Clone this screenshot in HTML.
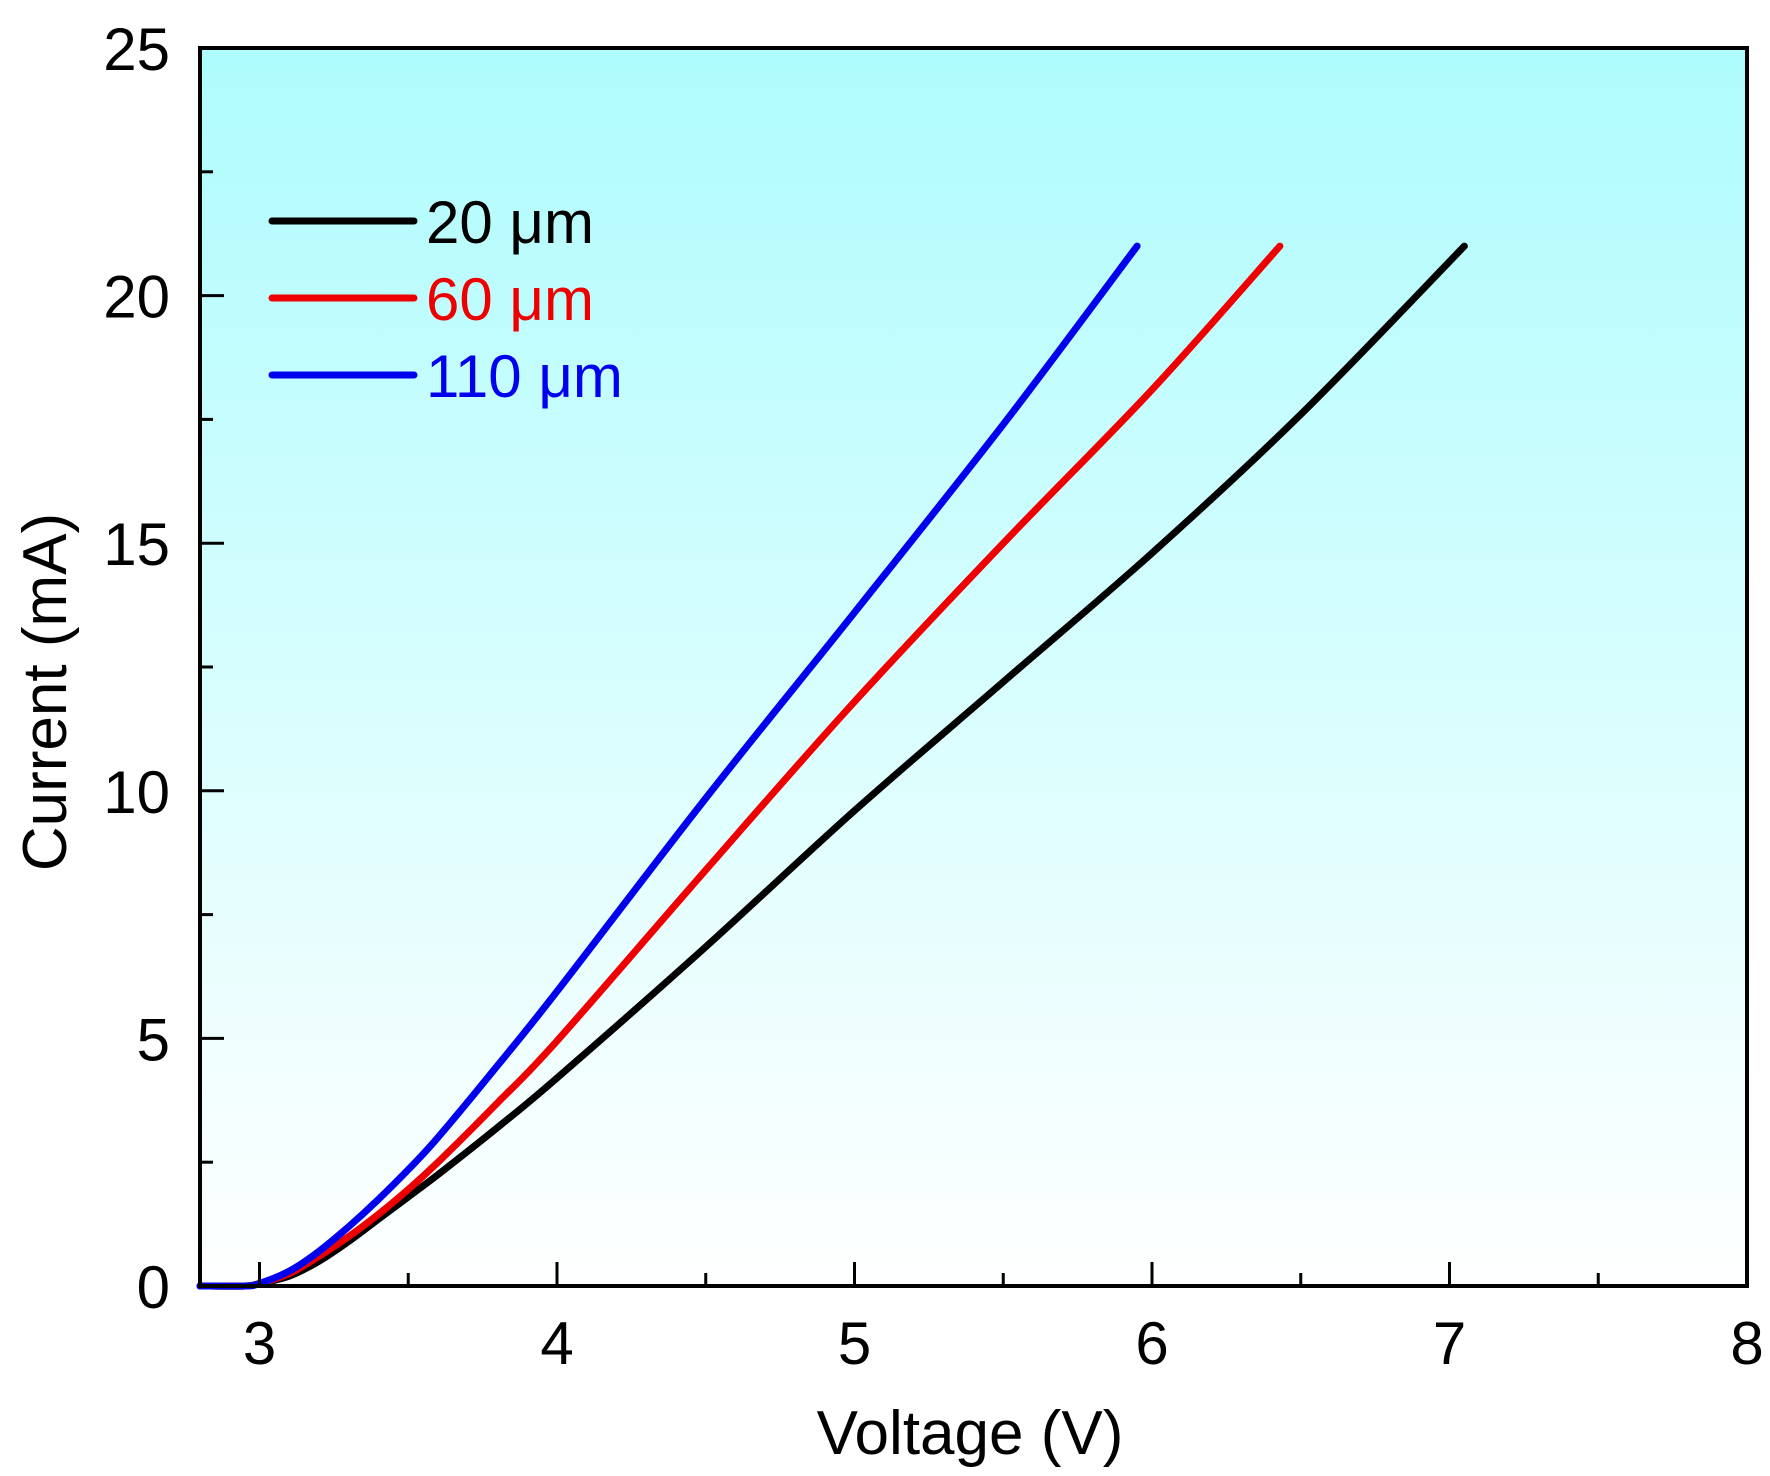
<!DOCTYPE html>
<html><head><meta charset="utf-8"><style>
html,body{margin:0;padding:0;background:#fff;}
svg{display:block;font-family:"Liberation Sans",Arial,sans-serif;}
</style></head><body>
<svg id="chart" width="1770" height="1476" viewBox="0 0 1770 1476" xmlns="http://www.w3.org/2000/svg">
<defs><linearGradient id="bg" x1="0" y1="0" x2="0" y2="1"><stop offset="0" stop-color="#aefcfd"/><stop offset="1" stop-color="#ffffff"/></linearGradient></defs>
<rect x="200" y="48" width="1547" height="1238" fill="url(#bg)"/>
<g id="series"></g>
<g id="axes"></g>
<text transform="translate(66,692) rotate(-90)" text-anchor="middle" font-size="62">Current (mA)</text>
<text x="970" y="1454" text-anchor="middle" font-size="62">Voltage (V)</text>
<g id="legend"></g>
</svg>
<script>
const seriesNames=["20 μm","60 μm","110 μm"];
const seriesColors=["#000000","#ee0000","#0000ee"];
const v20=[2.8,2.95,3.0,3.1,3.2,3.3,3.4,3.5,3.6,3.8,4.0,4.5,5.0,5.5,6.0,6.5,7.05];
const i20=[0,0,0.05,0.2,0.5,0.9,1.35,1.8,2.25,3.2,4.2,6.85,9.6,12.2,14.8,17.6,21.0];
const v60=[2.8,2.95,3.0,3.1,3.2,3.3,3.4,3.5,3.6,3.8,4.0,4.5,5.0,5.5,6.0,6.43];
const i60=[0,0,0.05,0.25,0.6,1.0,1.45,1.95,2.5,3.7,4.95,8.4,11.8,15.0,18.1,21.0];
const v110=[2.8,2.95,3.0,3.1,3.2,3.3,3.4,3.5,3.6,3.8,4.0,4.5,5.0,5.5,5.95];
const i110=[0,0,0.05,0.3,0.7,1.2,1.75,2.35,3.0,4.45,5.95,9.85,13.6,17.4,21.0];
const xTicks=[3,4,5,6,7,8];
const yTicks=[0,5,10,15,20,25];
const L=200,R=1747,T=48,B=1286,X0=2.8,X1=8,Y0=0,Y1=25;
const sx=v=>L+(v-X0)/(X1-X0)*(R-L);
const sy=v=>B-(v-Y0)/(Y1-Y0)*(B-T);
const NS="http://www.w3.org/2000/svg";
function mk(t,a,p){const e=document.createElementNS(NS,t);for(const k in a)e.setAttribute(k,a[k]);p.appendChild(e);return e;}
function smooth(pts){
 let d='M'+pts[0][0].toFixed(1)+','+pts[0][1].toFixed(1);
 for(let i=0;i<pts.length-1;i++){
  const p0=pts[Math.max(i-1,0)],p1=pts[i],p2=pts[i+1],p3=pts[Math.min(i+2,pts.length-1)];
  const c1=[p1[0]+(p2[0]-p0[0])/6,p1[1]+(p2[1]-p0[1])/6];
  const c2=[p2[0]-(p3[0]-p1[0])/6,p2[1]-(p3[1]-p1[1])/6];
  d+=' C'+c1.map(n=>n.toFixed(1)).join(',')+' '+c2.map(n=>n.toFixed(1)).join(',')+' '+p2.map(n=>n.toFixed(1)).join(',');
 }
 return d;
}
const sg=document.getElementById('series');
const all=[[v20,i20],[v60,i60],[v110,i110]];
all.forEach((s,k)=>{
 const pts=s[0].map((v,j)=>[sx(v),sy(s[1][j])]);
 const p=mk('path',{d:smooth(pts),fill:'none',stroke:seriesColors[k],'stroke-width':7,'stroke-linejoin':'round','stroke-linecap':'round'},sg);
 
 
});
const ax=document.getElementById('axes');
const fr=mk('rect',{x:L,y:T,width:R-L,height:B-T,fill:'none',stroke:'#000','stroke-width':4},ax);


xTicks.forEach(v=>{
 const x=sx(v);
 const t=mk('line',{x1:x,y1:B,x2:x,y2:B-24,stroke:'#000','stroke-width':3},ax);
 
 
 const lb=mk('text',{x:x,y:B+78,'text-anchor':'middle','font-size':60},ax);
 lb.textContent=v;
 
 
});
xTicks.slice(0,-1).forEach(v=>{
 const x=sx(v+0.5);
 const t=mk('line',{x1:x,y1:B,x2:x,y2:B-13,stroke:'#000','stroke-width':3},ax);
 
 
});
yTicks.forEach(v=>{
 const y=sy(v);
 const t=mk('line',{x1:L,y1:y,x2:L+24,y2:y,stroke:'#000','stroke-width':3},ax);
 
 
 const lb=mk('text',{x:L-30,y:y+22,'text-anchor':'end','font-size':60},ax);
 lb.textContent=v;
 
 
});
yTicks.slice(0,-1).forEach(v=>{
 const y=sy(v+2.5);
 const t=mk('line',{x1:L,y1:y,x2:L+13,y2:y,stroke:'#000','stroke-width':3},ax);
 
 
});
const lg=document.getElementById('legend');
seriesNames.forEach((n,k)=>{
 const y=221+k*77;
 const ln=mk('line',{x1:272,y1:y,x2:414,y2:y,stroke:seriesColors[k],'stroke-width':7,'stroke-linecap':'round'},lg);
 
 
 const tx=mk('text',{x:426,y:y+22,'font-size':60,fill:seriesColors[k]},lg);
 tx.textContent=n;
 
 
});
</script>
</body></html>
